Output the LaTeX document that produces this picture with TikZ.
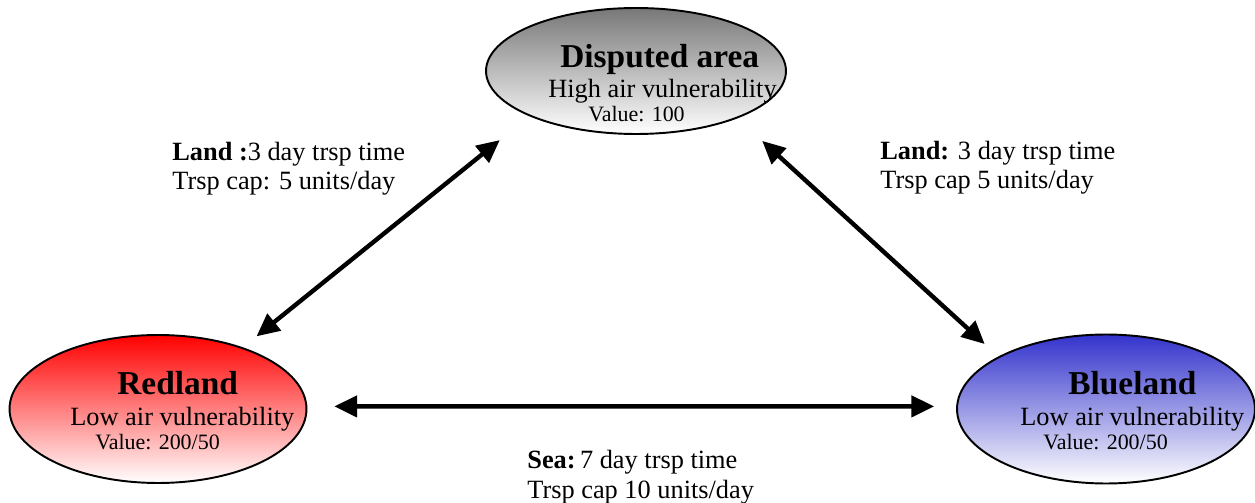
\documentclass[tikz,border=0pt]{standalone}
\usepackage{fontspec}
\setmainfont{Liberation Serif}
\usetikzlibrary{shapes.geometric,arrows.meta}

\definecolor{areagray}{RGB}{120,120,120}
\definecolor{redtop}{RGB}{255,0,0}
\definecolor{bluetop}{RGB}{51,51,204}

\begin{document}
\begin{tikzpicture}[x=0.02cm,y=-0.02cm,
        region/.style={ellipse,draw,line width=1.1pt,inner sep=0pt,bottom color=white},
        title/.style={anchor=base west,inner sep=0pt,font=\fontsize{19}{22}\selectfont\bfseries},
        info/.style={anchor=base west,inner sep=0pt,font=\fontsize{15}{17}\selectfont},
        value/.style={anchor=base west,inner sep=0pt,font=\fontsize{12.5}{15}\selectfont},
        route/.style={anchor=base west,inner sep=0pt,align=left,font=\fontsize{15}{17}\selectfont},
        link/.style={{Triangle[length=13pt,width=12pt]}-{Triangle[length=13pt,width=12pt]},line width=2.5pt}]
        \useasboundingbox (0,0) rectangle (1255,503);
        \node[region,top color=areagray,minimum width=6cm,minimum height=2.52cm] (disp) at (636,71) {};
        \node[region,top color=redtop,minimum width=5.94cm,minimum height=2.96cm] (red) at (158,409) {};
        \node[region,top color=bluetop,minimum width=5.96cm,minimum height=2.98cm] (blue) at (1106,409) {};
        \node[title] (disptitle) at (560,68) {Disputed area};
        \node[info] (dispair) at (548,98) {High air vulnerability};
        \node[value] (dispvalue) at (588,122) {Value: 100};
        \node[title] (redtitle) at (117,395) {Redland};
        \node[info] (redair) at (70,425) {Low air vulnerability};
        \node[value] (redvalue) at (95,449) {Value: 200/50};
        \node[title] (bluetitle) at (1068,395) {Blueland};
        \node[info] (blueair) at (1020,425) {Low air vulnerability};
        \node[value] (bluevalue) at (1043,449) {Value: 200/50};
        % base anchor sits on the last line
        \node[route] (landleft) at (172,190) {\textbf{Land :}3 day trsp time\\Trsp cap: 5 units/day};
        \node[route] (landright) at (880,189) {\textbf{Land:} 3 day trsp time\\Trsp cap 5 units/day};
        \node[route] (sea) at (527,498) {\textbf{Sea:}\,7 day trsp time\\Trsp cap 10 units/day};
        \draw[link,shorten <=0.35cm,shorten >=0.76cm] (red.36) -- (disp.203);
        \draw[link,shorten <=0.67cm,shorten >=0.37cm] (disp.335) -- (blue.154);
        \draw[link,shorten <=0.54cm,shorten >=0.44cm] (red.1) -- (blue.179);
    \end{tikzpicture}
\end{document}
